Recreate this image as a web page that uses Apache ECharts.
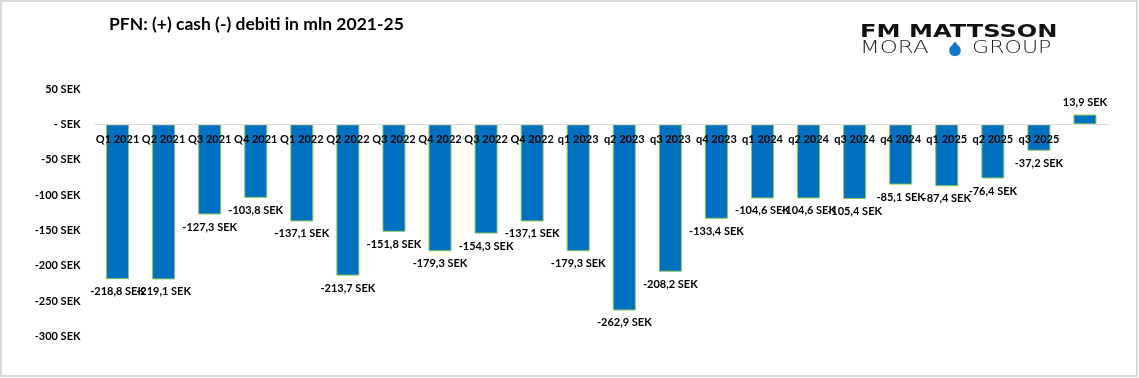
<!DOCTYPE html>
<html>
<head>
<meta charset="utf-8">
<script src="https://cdn.jsdelivr.net/npm/echarts@6/dist/echarts.min.js"></script>
<style>
html,body{margin:0;padding:0;background:#fff;}
#chart{width:1139px;height:378px;}
</style>
</head>
<body>
<div id="chart"></div>
<script>
const titleText = 'PFN: (+) cash (-) debiti in mln 2021-25';
const categories = ['Q1 2021','Q2 2021','Q3 2021','Q4 2021','Q1 2022','Q2 2022','Q3 2022','Q4 2022','Q3 2022','Q4 2022','q1 2023','q2 2023','q3 2023','q4 2023','q1 2024','q2 2024','q3 2024','q4 2024','q1 2025','q2 2025','q3 2025',''];
const values = [-218.8,-219.1,-127.3,-103.8,-137.1,-213.7,-151.8,-179.3,-154.3,-137.1,-179.3,-262.9,-208.2,-133.4,-104.6,-104.6,-105.4,-85.1,-87.4,-76.4,-37.2,13.9];
const yMin = -300, yMax = 50, yStep = 50;

const fmt = v => v.toFixed(1).replace('.', ',') + ' SEK';
const FONT = 'Lato';
const gridTop = 89, gridBottom = 41.3, H = 378;
const plotH = H - gridTop - gridBottom;
// offset that puts the bottom x axis on the zero line
const zeroOffset = -plotH * (0 - yMin) / (yMax - yMin);

const chart = echarts.init(document.getElementById('chart'));
chart.setOption({
  animation: false,
  backgroundColor: '#fff',
  grid: { left: 94.5, right: 31, top: gridTop, bottom: gridBottom, containLabel: false },
  xAxis: {
    type: 'category',
    data: categories,
    position: 'bottom',
    offset: zeroOffset,
    z: 5,
    axisLine: { onZero: false, lineStyle: { color: '#d9d9d9', width: 1 } },
    axisTick: { show: false },
    axisLabel: { interval: 0, margin: 10, color: '#000', fontFamily: FONT, fontWeight: 'bold', fontSize: 11 }
  },
  yAxis: {
    type: 'value',
    min: yMin, max: yMax, interval: yStep,
    splitLine: { show: false },
    axisLine: { show: false },
    axisTick: { show: false },
    axisLabel: {
      margin: 14, color: '#000', fontFamily: FONT, fontWeight: 'bold', fontSize: 11,
      formatter: v => v === 0 ? '- SEK' : v + ' SEK'
    }
  },
  series: [{
    type: 'bar',
    barWidth: 23,
    data: values.map(v => ({
      value: v,
      label: { position: v < 0 ? 'bottom' : 'top' }
    })),
    itemStyle: { color: '#0070C0', borderColor: '#8DC95A', borderWidth: 1 },
    label: {
      show: true, distance: 7, color: '#000',
      fontFamily: FONT, fontWeight: 'bold', fontSize: 11,
      formatter: p => fmt(p.value)
    }
  }],
  graphic: [
    { type: 'rect', shape: { x: 1, y: 1, width: 1136, height: 375 }, style: { fill: 'none', stroke: '#d9d9d9', lineWidth: 2 }, silent: true },
    { type: 'text', x: 109, y: 15, style: { text: titleText, fill: '#000', font: 'bold 17.5px Lato', textAlign: 'left', textVerticalAlign: 'top' } },
    { type: 'text', x: 860, y: 23, scaleX: 1.34, style: { text: 'FM MATTSSON', fill: '#111', font: 'bold 18px "DejaVu Sans"', textAlign: 'left', textVerticalAlign: 'top' } },
    { type: 'text', x: 860, y: 40, scaleX: 1.35, style: { text: 'MORA', fill: '#222', font: '200 17px "DejaVu Sans"', textAlign: 'left', textVerticalAlign: 'top' } },
    { type: 'text', x: 972, y: 40, scaleX: 1.3, style: { text: 'GROUP', fill: '#222', font: '200 17px "DejaVu Sans"', textAlign: 'left', textVerticalAlign: 'top' } },
    { type: 'circle', shape: { cx: 955, cy: 50.5, r: 5.8 }, style: { fill: '#1478C8' } },
    { type: 'polygon', shape: { points: [[949.5, 48.5], [955, 41.5], [960.5, 48.5]] }, style: { fill: '#1478C8' } }
  ]
});
</script>
</body>
</html>
